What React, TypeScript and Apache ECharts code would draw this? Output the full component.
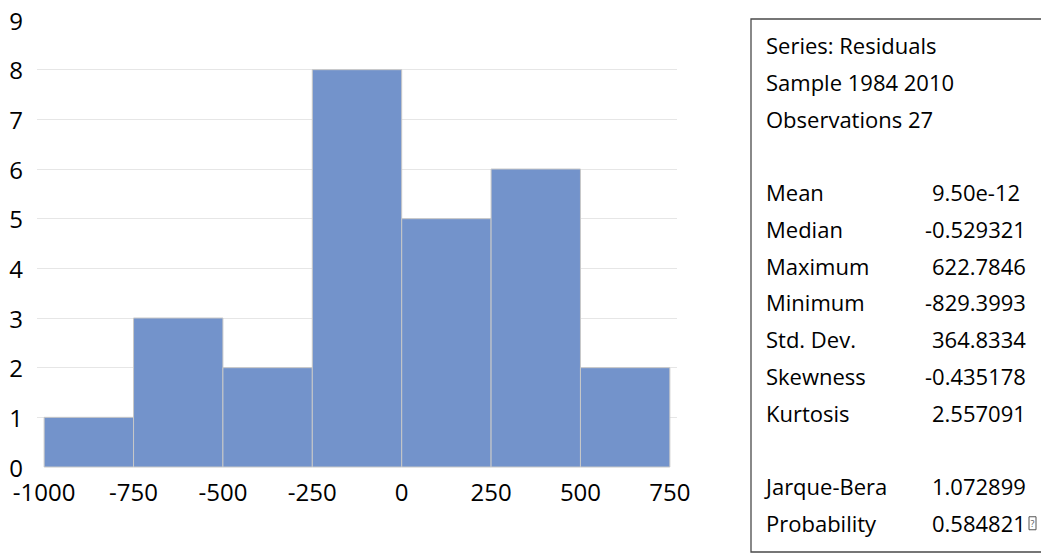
import React, { useEffect, useRef } from "react";
import * as echarts from "echarts";

// Histogram bins (lower edge, upper edge) and counts
const binStarts = [-1000, -750, -500, -250, 0, 250, 500];
const binEnds = [-750, -500, -250, 0, 250, 500, 750];
const counts = [1, 3, 2, 8, 5, 6, 2];
const xTickLabels = [-1000, -750, -500, -250, 0, 250, 500, 750];

const statHeader = ["Series: Residuals", "Sample 1984 2010", "Observations 27"];
const statNames = ["Mean", "Median", "Maximum", "Minimum", "Std. Dev.", "Skewness", "Kurtosis"];
const statValues = ["9.50e-12", "-0.529321", "622.7846", "-829.3993", "364.8334", "-0.435178", "2.557091"];
const testNames = ["Jarque-Bera", "Probability"];
const testValues = ["1.072899", "0.584821"];

const FONT = "'Open Sans', Lato, sans-serif";

export default function App() {
  const ref = useRef<HTMLDivElement>(null);
  useEffect(() => {
    if (!ref.current) return;
    const chart = echarts.init(ref.current, undefined, { renderer: "svg" });
    const data = binStarts.map((s, i) => [s, binEnds[i], counts[i]]);

    const lineH = 36.75;
    const firstY = 45;
    const labelX = 766;
    const valueX = 932;
    const minusW = 7;
    const texts: any[] = [];
    const addRow = (row: number, name: string, value?: string) => {
      const y = firstY + row * lineH;
      texts.push({
        type: "text",
        x: labelX,
        y,
        style: { text: name, font: `22px ${FONT}`, fill: "#000", textVerticalAlign: "middle", textAlign: "left" },
      });
      if (value !== undefined) {
        const neg = value.startsWith("-");
        texts.push({
          type: "text",
          x: neg ? valueX - minusW : valueX,
          y,
          style: { text: value, font: `22px ${FONT}`, fill: "#000", textVerticalAlign: "middle", textAlign: "left" },
        });
      }
    };
    statHeader.forEach((t, i) => addRow(i, t));
    statNames.forEach((t, i) => addRow(4 + i, t, statValues[i]));
    testNames.forEach((t, i) => addRow(12 + i, t, testValues[i]));

    const lastY = firstY + 13 * lineH;

    chart.setOption({
      animation: false,
      grid: { left: 37, right: 364, top: 20, bottom: 87 },
      xAxis: {
        type: "value",
        min: -1020,
        max: 770,
        axisLine: { show: false },
        axisTick: { show: false },
        splitLine: { show: false },
        axisLabel: {
          customValues: xTickLabels,
          formatter: (v: number) => String(v),
          color: "#000",
          fontSize: 24,
          lineHeight: 22,
          fontFamily: FONT,
          margin: 13,
        },
      },
      yAxis: {
        type: "value",
        min: 0,
        max: 9,
        interval: 1,
        axisLine: { show: false },
        axisTick: { show: false },
        splitLine: { show: true, showMinLine: false, showMaxLine: false, lineStyle: { color: "#e6e6e6", width: 1 } },
        axisLabel: {
          color: "#000",
          fontSize: 24,
          lineHeight: 22,
          fontFamily: FONT,
          margin: 14,
        },
      },
      series: [
        {
          type: "custom",
          data,
          encode: { x: [0, 1], y: 2 },
          renderItem: (params: any, api: any) => {
            const p0 = api.coord([api.value(0), api.value(2)]);
            const p1 = api.coord([api.value(1), 0]);
            return {
              type: "rect",
              shape: { x: p0[0], y: p0[1], width: p1[0] - p0[0], height: p1[1] - p0[1] },
              style: { fill: "#7393cb", stroke: "#c8c8c8", lineWidth: 1 },
            };
          },
        },
      ],
      graphic: [
        {
          type: "rect",
          shape: { x: 751, y: 19, width: 330, height: 533 },
          style: { fill: "none", stroke: "#4a4a4a", lineWidth: 1.3 },
        },
        ...texts,
        {
          type: "rect",
          shape: { x: 1029, y: lastY - 6, width: 7, height: 13 },
          style: { fill: "none", stroke: "#555", lineWidth: 1 },
        },
        {
          type: "text",
          x: 1032.5,
          y: lastY + 1,
          style: { text: "?", font: `9px ${FONT}`, fill: "#555", textAlign: "center", textVerticalAlign: "middle" },
        },
      ],
    });
    return () => chart.dispose();
  }, []);
  return <div ref={ref} style={{ width: 1041, height: 554, position: "absolute", left: 0, top: 0 }} />;
}
